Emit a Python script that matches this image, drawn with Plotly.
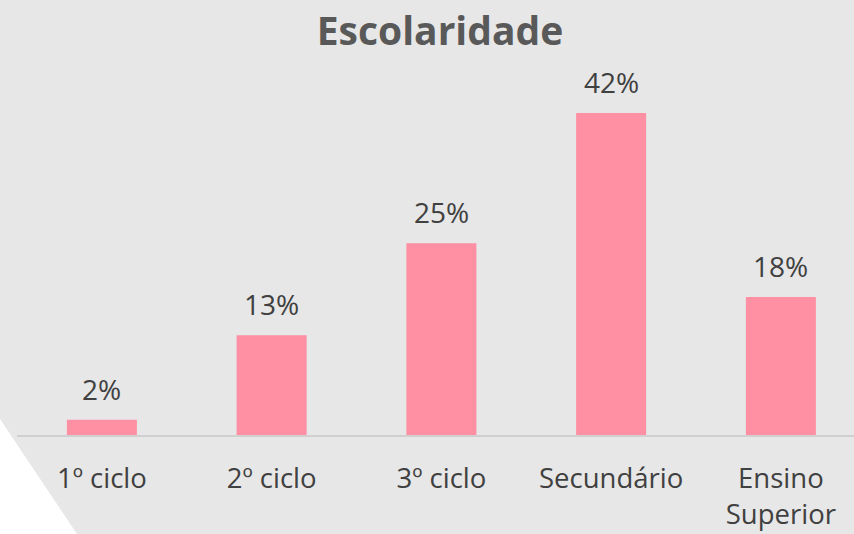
import plotly.graph_objects as go

categories = ["1º ciclo", "2º ciclo", "3º ciclo", "Secundário", "Ensino<br>Superior"]
values = [2, 13, 25, 42, 18]
labels = ["2%", "13%", "25%", "42%", "18%"]

W, H = 854, 534
base_px = 435
top_px = 60
px_per_unit = 322 / 42.0
y_top = (base_px - top_px) / px_per_unit

x0_px = 17
cat_px = 169.75
x_span = (W - x0_px) / cat_px

FONT = "Open Sans"
TXT = "#404040"

fig = go.Figure(go.Bar(
    x=categories, y=values,
    marker=dict(color="#ff8fa3", line=dict(width=0)),
    width=70 / cat_px,
))

for c, v, t in zip(categories, values, labels):
    fig.add_annotation(x=c, y=v, text=t, showarrow=False, yanchor="bottom",
                       yshift=10, font=dict(family=FONT, size=28, color=TXT))

fig.update_layout(
    width=W, height=H,
    margin=dict(l=0, r=0, t=0, b=0),
    paper_bgcolor="#e7e7e7", plot_bgcolor="rgba(0,0,0,0)",
    showlegend=False,
    title=dict(text="<b>Escolaridade</b>", x=440 / W, xanchor="center",
               y=1 - 31 / H, yanchor="middle",
               font=dict(family=FONT, size=39, color="#595959")),
    xaxis=dict(domain=[x0_px / W, 1], range=[-0.5, -0.5 + x_span],
               showline=True, linecolor="#d0d0d0", linewidth=2,
               showgrid=False, ticks="", ticklabelstandoff=18,
               tickfont=dict(family=FONT, size=27.5, color=TXT)),
    yaxis=dict(domain=[(H - base_px) / H, (H - top_px) / H], range=[0, y_top],
               visible=False, showgrid=False, zeroline=False),
    shapes=[dict(type="path", xref="paper", yref="paper",
                 path=f"M 0 {1 - 419 / H} L {77 / W} 0 L 0 0 Z",
                 fillcolor="white", line=dict(width=0), layer="below")],
)

fig.write_html("out.html", config={"displayModeBar": False},
               post_script="document.body.style.margin='0';document.body.style.overflow='hidden';")
